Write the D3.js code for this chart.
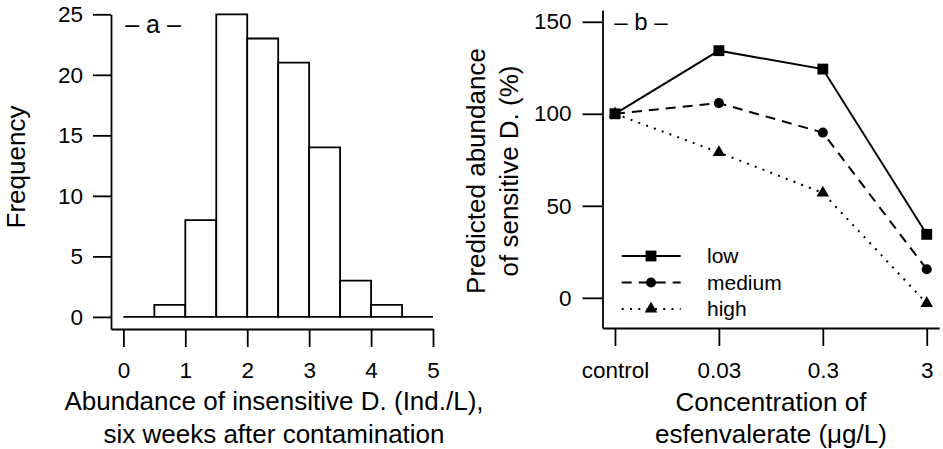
<!DOCTYPE html>
<meta charset="utf-8">
<style>
body { margin: 0; background: #fff; }
svg { display: block; font-family: "Liberation Sans", Arial, Helvetica, sans-serif; }
</style>
<body>
<svg width="943" height="449" id="vis"></svg>
</body>
<script src="https://d3js.org/d3.v7.min.js"></script>
<script>
// panel a: histogram
var binStarts = [0, 0.5, 1, 1.5, 2, 2.5, 3, 3.5, 4, 4.5];
var binWidth = 0.5;
var counts = [0, 1, 8, 25, 23, 21, 14, 3, 1, 0];
var histXTicks = [0, 1, 2, 3, 4, 5];
var histYTicks = [0, 5, 10, 15, 20, 25];

// panel b: predicted abundance
var concentrations = ["control", "0.03", "0.3", "3"];
var lowValues = [100, 134.3, 124.3, 34.5];
var mediumValues = [100, 105.8, 89.8, 15.5];
var highValues = [100, 79, 57, -3];
var lineYTicks = [0, 50, 100, 150];
var seriesNames = ["low", "medium", "high"];

var svg = d3.select("#vis");
var ink = "#000";
var intFormat = d3.format("d");

function styleAxis(g, size) {
  g.attr("font-size", size).attr("font-family", null);
  g.selectAll("path, line").attr("stroke", ink).attr("stroke-width", 1.8);
  g.selectAll("text").attr("fill", ink);
}

// ---------- panel a ----------
var xa = d3.scaleLinear().domain([-0.2, 5]).range([111, 433]);
var ya = d3.scaleLinear().domain([-1, 25]).range([329, 14.3]);

var ga = svg.append("g");

ga.selectAll("path.bin").data(binStarts).enter().append("path")
  .attr("class", "bin")
  .attr("fill", "#fff")
  .attr("stroke", ink)
  .attr("stroke-width", 1.8)
  .attr("d", function(d, i) {
    var x0 = xa(d), x1 = xa(d + binWidth), y0 = ya(0), y1 = ya(counts[i]);
    return "M" + x0 + "," + y0 + "V" + y1 + "H" + x1 + "V" + y0 + "Z";
  });

ga.append("g")
  .attr("transform", "translate(111,0)")
  .call(d3.axisLeft(ya).tickValues(histYTicks).tickFormat(intFormat)
    .tickSize(18).tickSizeOuter(0).tickPadding(10))
  .call(styleAxis, 22.5);

ga.append("g")
  .attr("transform", "translate(0,329)")
  .call(d3.axisBottom(xa).tickValues(histXTicks).tickFormat(intFormat)
    .tickSize(18).tickSizeOuter(0).tickPadding(15))
  .call(styleAxis, 22.5);

ga.append("text")
  .attr("x", 153).attr("y", 33)
  .attr("text-anchor", "middle").attr("font-size", 25)
  .text("\u2013 a \u2013");

ga.append("text")
  .attr("transform", "translate(25,167) rotate(-90)")
  .attr("text-anchor", "middle").attr("font-size", 26)
  .text("Frequency");

ga.append("text")
  .attr("x", 274).attr("y", 410)
  .attr("text-anchor", "middle").attr("font-size", 26)
  .text("Abundance of insensitive D. (Ind./L),");
ga.append("text")
  .attr("x", 274).attr("y", 443)
  .attr("text-anchor", "middle").attr("font-size", 26)
  .text("six weeks after contamination");

// ---------- panel b ----------
var xb = d3.scaleLinear().domain([0.88, 4.12]).range([602.5, 939.2]);
var yb = d3.scaleLinear().domain([-16.4, 156.4]).range([328, 10]);

var gb = svg.append("g");

gb.append("g")
  .attr("transform", "translate(602.5,0)")
  .call(d3.axisLeft(yb).tickValues(lineYTicks).tickFormat(intFormat)
    .tickSize(20).tickSizeOuter(0).tickPadding(11))
  .call(styleAxis, 22.5);

gb.append("g")
  .attr("transform", "translate(0,328)")
  .call(d3.axisBottom(xb).tickValues([1, 2, 3, 4])
    .tickFormat(function(d) { return concentrations[d - 1]; })
    .tickSize(18).tickSizeOuter(0).tickPadding(16))
  .call(styleAxis, 22.5);

var series = [
  {name: "low", values: lowValues, dash: null, symbol: d3.symbolSquare, size: 118},
  {name: "medium", values: mediumValues, dash: "10,7", symbol: d3.symbolCircle, size: 80},
  {name: "high", values: highValues, dash: "2,6.3", symbol: d3.symbolTriangle, size: 68}
];

var line = d3.line()
  .x(function(d, i) { return xb(i + 1); })
  .y(function(d) { return yb(d); });

series.forEach(function(s) {
  gb.append("path")
    .datum(s.values)
    .attr("fill", "none")
    .attr("stroke", ink)
    .attr("stroke-width", 2)
    .attr("stroke-dasharray", s.dash)
    .attr("d", line);
});

series.slice().reverse().forEach(function(s) {
  gb.selectAll("path.pt-" + s.name).data(s.values).enter().append("path")
    .attr("class", "pt-" + s.name)
    .attr("fill", ink)
    .attr("transform", function(d, i) { return "translate(" + xb(i + 1) + "," + yb(d) + ")"; })
    .attr("d", d3.symbol().type(s.symbol).size(s.size));
});

// legend
var legendY = [256, 282.5, 309];
var legend = gb.selectAll("g.legend").data(series).enter().append("g")
  .attr("class", "legend")
  .attr("transform", function(d, i) { return "translate(0," + legendY[i] + ")"; });

legend.append("line")
  .attr("x1", 621.7).attr("x2", 680.7)
  .attr("stroke", ink).attr("stroke-width", 2)
  .attr("stroke-dasharray", function(d) { return d.dash; });

legend.append("path")
  .attr("transform", "translate(651,0)")
  .attr("fill", ink)
  .attr("d", function(d) { return d3.symbol().type(d.symbol).size(d.size)(); });

legend.append("text")
  .attr("x", 707).attr("dy", "0.35em")
  .attr("font-size", 21)
  .text(function(d) { return d.name; });

gb.append("text")
  .attr("x", 641).attr("y", 30)
  .attr("text-anchor", "middle").attr("font-size", 24)
  .text("\u2013 b \u2013");

gb.append("text")
  .attr("transform", "translate(485,171) rotate(-90)")
  .attr("text-anchor", "middle").attr("font-size", 26)
  .text("Predicted abundance");
gb.append("text")
  .attr("transform", "translate(518,171) rotate(-90)")
  .attr("text-anchor", "middle").attr("font-size", 26)
  .text("of sensitive D. (%)");

gb.append("text")
  .attr("x", 771).attr("y", 411)
  .attr("text-anchor", "middle").attr("font-size", 26)
  .text("Concentration of");
gb.append("text")
  .attr("x", 771).attr("y", 443)
  .attr("text-anchor", "middle").attr("font-size", 26)
  .text("esfenvalerate (\u03bcg/L)");
</script>
